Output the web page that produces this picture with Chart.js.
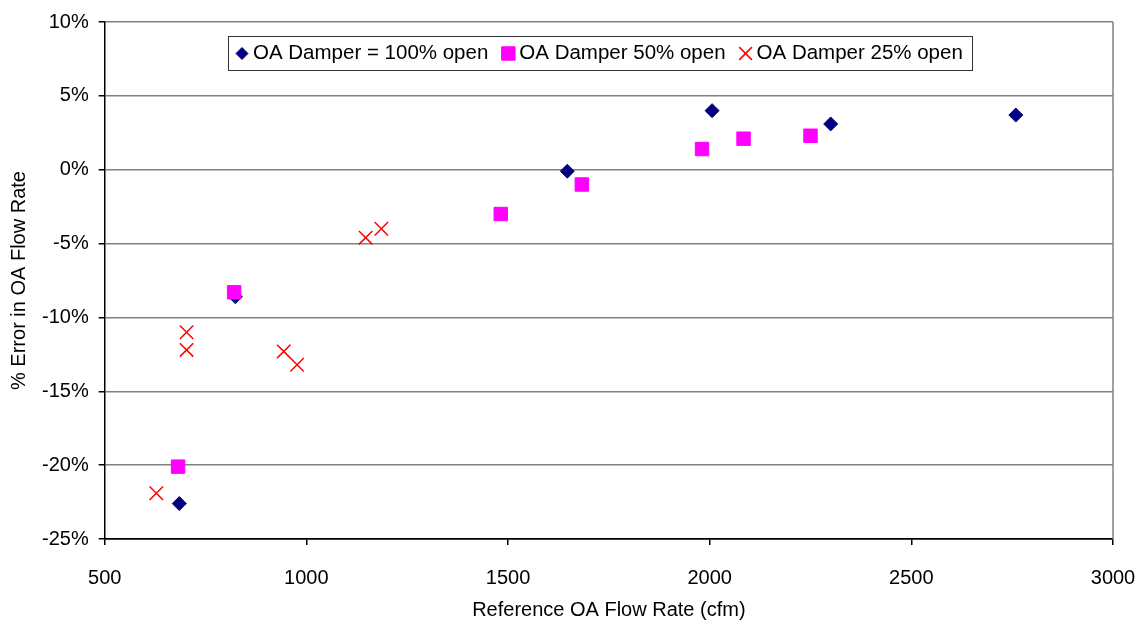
<!DOCTYPE html>
<html>
<head>
<meta charset="utf-8">
<script src="https://cdn.jsdelivr.net/npm/chart.js@4.4.1/dist/chart.umd.min.js"></script>
<style>
  html, body { margin: 0; padding: 0; background: #fff; }
  #wrap { width: 1148px; height: 628px; }
</style>
</head>
<body>
<div id="wrap"><canvas id="chart"></canvas></div>
<script>
// values (x = cfm, y = % error)
const open100X = [685, 824, 1647, 2006, 2300, 2759];
const open100Y = [-22.6, -8.6, -0.1, 4.0, 3.1, 3.7];
const open50X = [682, 821, 1482, 1683, 1981, 2084, 2250];
const open50Y = [-20.1, -8.3, -3.0, -1.0, 1.4, 2.1, 2.3];
const open25X = [628, 703, 703, 944, 977, 1147, 1186];
const open25Y = [-21.9, -11.0, -12.2, -12.3, -13.2, -4.6, -4.0];
const seriesNames = ['OA Damper = 100% open', 'OA Damper 50% open', 'OA Damper 25% open'];
const xTicks = [500, 1000, 1500, 2000, 2500, 3000];
const yTicks = [-25, -20, -15, -10, -5, 0, 5, 10];

const FONT = '"Liberation Sans", Arial, sans-serif';

const toPoints = (xs, ys) => xs.map((x, i) => ({ x: x, y: ys[i] }));

// legend box drawn inside the plot, like the original
const boxedLegend = {
    id: 'boxedLegend',
    afterDraw(chart) {
        const { ctx, chartArea } = chart;
        ctx.save();
        ctx.font = '20.5px ' + FONT;
        const sets = chart.data.datasets;
        const widths = sets.map(ds => ctx.measureText(ds.label).width);
        let total = 14 + 9;
        widths.forEach((w, i) => { total += 11 + w + (i < widths.length - 1 ? 20 : 0); });
        total = Math.round(total);
        const left = Math.round((chartArea.left + chartArea.right) / 2 - 8.5 - total / 2);
        const top = Math.round(chartArea.top + 14);
        const h = 34;
        ctx.fillStyle = '#fff';
        ctx.fillRect(left, top, total, h);
        ctx.strokeStyle = '#333';
        ctx.lineWidth = 1;
        ctx.strokeRect(left + 0.5, top + 0.5, total, h);
        let x = left + 14;
        const cy = top + h / 2 + 0.5;
        sets.forEach((ds, i) => {
            ctx.fillStyle = ds.backgroundColor;
            ctx.strokeStyle = ds.borderColor;
            ctx.lineWidth = ds.borderWidth;
            Chart.helpers.drawPoint(ctx, {
                pointStyle: ds.pointStyle,
                radius: ds.legendRadius,
                rotation: 0,
                borderWidth: ds.borderWidth
            }, x, cy);
            ctx.fillStyle = '#000';
            ctx.textBaseline = 'middle';
            ctx.textAlign = 'left';
            ctx.fillText(ds.label, x + 11, cy);
            x += 11 + widths[i] + 20;
        });
        ctx.restore();
    }
};

// gray right-hand border of the plot area
const plotFrame = {
    id: 'plotFrame',
    beforeDatasetsDraw(chart) {
        const { ctx, chartArea } = chart;
        ctx.save();
        ctx.strokeStyle = '#808080';
        ctx.lineWidth = 1.5;
        ctx.beginPath();
        ctx.moveTo(chartArea.right, chartArea.top);
        ctx.lineTo(chartArea.right, chartArea.bottom);
        ctx.stroke();
        ctx.restore();
    }
};

new Chart(document.getElementById('chart'), {
    type: 'scatter',
    data: {
        datasets: [{
            label: seriesNames[0],
            data: toPoints(open100X, open100Y),
            pointStyle: 'rectRot',
            pointRadius: 7,
            legendRadius: 6,
            backgroundColor: '#000080',
            borderColor: '#000080',
            borderWidth: 1,
            order: 3
        }, {
            label: seriesNames[1],
            data: toPoints(open50X, open50Y),
            pointStyle: 'rect',
            pointRadius: 9.5,
            legendRadius: 9.5,
            backgroundColor: '#ff00ff',
            borderColor: '#ff00ff',
            borderWidth: 1,
            order: 2
        }, {
            label: seriesNames[2],
            data: toPoints(open25X, open25Y),
            pointStyle: 'crossRot',
            pointRadius: 9.5,
            legendRadius: 9,
            backgroundColor: '#ff0000',
            borderColor: '#ff0000',
            borderWidth: 1.5,
            order: 1
        }]
    },
    options: {
        responsive: true,
        maintainAspectRatio: false,
        animation: false,
        layout: { padding: { left: 4, right: 0, top: 7, bottom: 2 } },
        plugins: {
            legend: { display: false },
            tooltip: { enabled: false }
        },
        scales: {
            x: {
                type: 'linear',
                min: xTicks[0],
                max: xTicks[xTicks.length - 1],
                afterBuildTicks: axis => { axis.ticks = xTicks.map(v => ({ value: v })); },
                afterFit: axis => { axis.paddingRight = 35; },
                grid: {
                    drawOnChartArea: false,
                    drawTicks: true,
                    tickLength: 6,
                    tickColor: '#000',
                    lineWidth: 1.5
                },
                border: { color: '#000', width: 1.5 },
                ticks: {
                    padding: 21,
                    color: '#000',
                    font: { family: FONT, size: 20 },
                    callback: v => String(v)
                },
                title: {
                    display: true,
                    text: 'Reference OA Flow Rate (cfm)',
                    color: '#000',
                    font: { family: FONT, size: 20 },
                    padding: { top: -13, bottom: 4 }
                }
            },
            y: {
                min: yTicks[0],
                max: yTicks[yTicks.length - 1],
                afterBuildTicks: axis => { axis.ticks = yTicks.map(v => ({ value: v })); },
                grid: {
                    color: c => (c.tick && c.tick.value === yTicks[0]) ? '#000' : '#808080',
                    lineWidth: 1.5,
                    tickLength: 6,
                    tickColor: '#000'
                },
                border: { color: '#000', width: 1.5 },
                ticks: {
                    padding: 10,
                    color: '#000',
                    font: { family: FONT, size: 20 },
                    callback: v => v + '%'
                },
                title: {
                    display: true,
                    text: '% Error in OA Flow Rate',
                    color: '#000',
                    font: { family: FONT, size: 20 },
                    padding: { top: 3, bottom: 1 }
                }
            }
        }
    },
    plugins: [plotFrame, boxedLegend]
});
</script>
</body>
</html>
